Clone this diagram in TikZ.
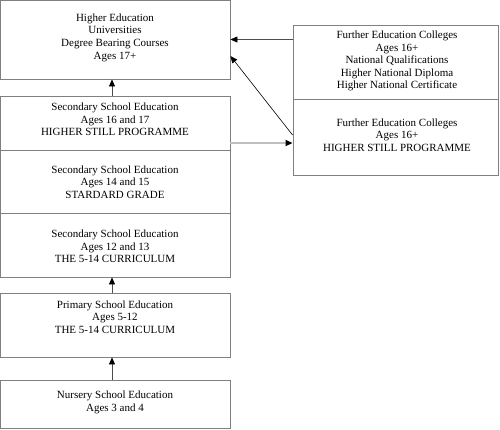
\documentclass[tikz,border=0pt]{standalone}
\usepackage{fontspec}
\setmainfont{Liberation Serif}
\usetikzlibrary{arrows.meta}
\begin{document}
\begin{tikzpicture}[x=1pt,y=-1pt,
  box/.style={draw=black!50,line width=0.9pt,inner sep=0pt,minimum width=230pt},
  rbox/.style={draw=black!50,line width=0.9pt,inner sep=0pt,minimum width=205pt},
  txt/.style={inner sep=0pt,align=center,font=\fontsize{11}{12.6}\selectfont},
  arr/.style={draw=black!70,line width=0.6pt,-{Triangle[length=7pt,width=6pt,color=black]}}
]
\useasboundingbox (0,0) rectangle (500,429);
\node[box,minimum height=79pt] (he) at (115,39.5) {};
\node[box,minimum height=54pt] (s1) at (115,123) {};
\node[box,minimum height=63pt] (s2) at (115,181.5) {};
\node[box,minimum height=64pt] (s3) at (115,245) {};
\node[box,minimum height=64pt] (pr) at (115,325) {};
\node[box,minimum height=48pt] (nu) at (115,404) {};
\node[rbox,minimum height=74pt] (f1) at (395.5,62) {};
\node[rbox,minimum height=76pt] (f2) at (395.5,137) {};

\node[txt] (het) at (115,37.5) {Higher Education\\Universities\\Degree Bearing Courses\\Ages 17+};
\node[txt] (s1t) at (115,119.5) {Secondary School Education\\Ages 16 and 17\\HIGHER STILL PROGRAMME};
\node[txt] (s2t) at (115,182) {Secondary School Education\\Ages 14 and 15\\STARDARD GRADE};
\node[txt] (s3t) at (115,246.5) {Secondary School Education\\Ages 12 and 13\\THE 5-14 CURRICULUM};
\node[txt] (prt) at (115,317) {Primary School Education\\Ages 5-12\\THE 5-14 CURRICULUM};
\node[txt] (nut) at (115,402.5) {Nursery School Education\\Ages 3 and 4};
\node[txt] (f1t) at (397,61) {Further Education Colleges\\Ages 16+\\National Qualifications\\Higher National Diploma\\Higher National Certificate};
\node[txt] (f2t) at (397,135) {Further Education Colleges\\Ages 16+\\HIGHER STILL PROGRAMME};

\draw[arr] ([xshift=-3pt]s1.north) -- ([xshift=-3pt]he.south);
\draw[arr] ([xshift=-3pt]pr.north) -- ([xshift=-3pt]s3.south);
\draw[arr] ([xshift=-3pt]nu.north) -- ([xshift=-3pt]pr.south);
\draw[arr] (f1.west |- he.east) -- (he.east);
\draw[arr,draw=black] ([yshift=2pt]f2.west) -- ([yshift=-16.5pt]he.east);
\draw[arr,draw=black!25,line width=1.8pt] ([yshift=-20pt]s1.east) -- ([yshift=-20pt]s1.east -| f2.west);
\end{tikzpicture}
\end{document}
